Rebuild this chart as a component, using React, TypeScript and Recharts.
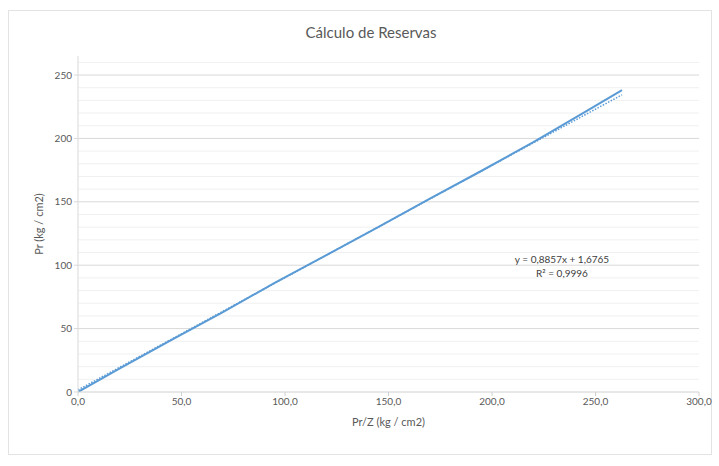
import React from "react";
import { LineChart, Line, XAxis, YAxis, CartesianGrid, ReferenceLine } from "recharts";

const prZ = [0, 20, 45, 70, 95, 120, 145, 170, 195, 220, 245, 262.8];
const pr = [0, 18.5, 41, 63, 86, 108, 130, 152.5, 174.5, 197, 221, 238];
const trendX = [0, 262.8];
const trendY = [1.68, 234.4];
const xTicks = [0, 50, 100, 150, 200, 250, 300];
const yTicks = [0, 50, 100, 150, 200, 250];
const minorY = [10, 20, 30, 40, 60, 70, 80, 90, 110, 120, 130, 140, 160, 170, 180, 190, 210, 220, 230, 240, 260];

const series = prZ.map((x, i) => ({ x, y: pr[i] }));
const trend = trendX.map((x, i) => ({ x, y: trendY[i] }));

const FONT = "Lato, 'Open Sans', sans-serif";
const W = 719;
const H = 466;

export default function App() {
  return (
    <div style={{ position: "absolute", left: 0, top: 0, width: W, height: H, background: "#fff" }}>
      <div
        style={{
          position: "absolute",
          left: 8,
          top: 10,
          width: 704,
          height: 445,
          border: "1px solid #e3e3e3",
          boxSizing: "border-box",
        }}
      />
      <div style={{ position: "absolute", left: 0, top: 0 }}>
        <LineChart width={W} height={H} margin={{ top: 56, right: 20, bottom: 44, left: 48 }}>
          <CartesianGrid vertical={false} horizontal={false} />
          {minorY.map((v) => (
            <ReferenceLine key={v} y={v} stroke="#f0f0f0" strokeWidth={1} />
          ))}
          {yTicks.slice(1).map((v) => (
            <ReferenceLine key={"m" + v} y={v} stroke="#d9d9d9" strokeWidth={1} />
          ))}
          <XAxis
            type="number"
            dataKey="x"
            domain={[0, 300]}
            ticks={xTicks}
            allowDataOverflow
            height={30}
            tickFormatter={(v: number) => v.toFixed(1).replace(".", ",")}
            tick={{ fill: "#595959", fontSize: 10, fontFamily: FONT }}
            axisLine={{ stroke: "#d0d0d0" }}
            tickLine={{ stroke: "#d0d0d0" }}
            tickSize={4}
            label={{
              value: "Pr/Z (kg / cm2)",
              position: "insideBottom",
              offset: -4,
              fill: "#595959",
              fontSize: 11,
              fontFamily: FONT,
            }}
          />
          <YAxis
            type="number"
            domain={[0, 265]}
            ticks={yTicks}
            allowDataOverflow
            width={30}
            tick={{ fill: "#595959", fontSize: 10, fontFamily: FONT }}
            axisLine={{ stroke: "#d9d9d9" }}
            tickLine={{ stroke: "#d9d9d9" }}
            tickSize={4}
            label={{
              value: "Pr (kg / cm2)",
              angle: -90,
              position: "left",
              offset: 9,
              fill: "#595959",
              fontSize: 11,
              fontFamily: FONT,
              style: { textAnchor: "middle" },
            }}
          />
          <Line
            data={trend}
            dataKey="y"
            type="linear"
            stroke="#5B9BD5"
            strokeWidth={1.5}
            strokeDasharray="1.5 1.5"
            dot={false}
            activeDot={false}
            isAnimationActive={false}
          />
          <Line
            data={series}
            dataKey="y"
            type="linear"
            stroke="#5B9BD5"
            strokeWidth={2}
            dot={false}
            activeDot={false}
            isAnimationActive={false}
          />
        </LineChart>
      </div>
      <svg width={W} height={H} style={{ position: "absolute", left: 0, top: 0, pointerEvents: "none" }}>
        <text x={371} y={38} textAnchor="middle" fill="#595959" fontSize={15} fontFamily={FONT}>
          Cálculo de Reservas
        </text>
        <text x={562} y={263} textAnchor="middle" fill="#404040" fontSize={10} fontFamily={FONT}>
          y = 0,8857x + 1,6765
        </text>
        <text x={562} y={277} textAnchor="middle" fill="#404040" fontSize={10} fontFamily={FONT}>
          R² = 0,9996
        </text>
      </svg>
    </div>
  );
}
